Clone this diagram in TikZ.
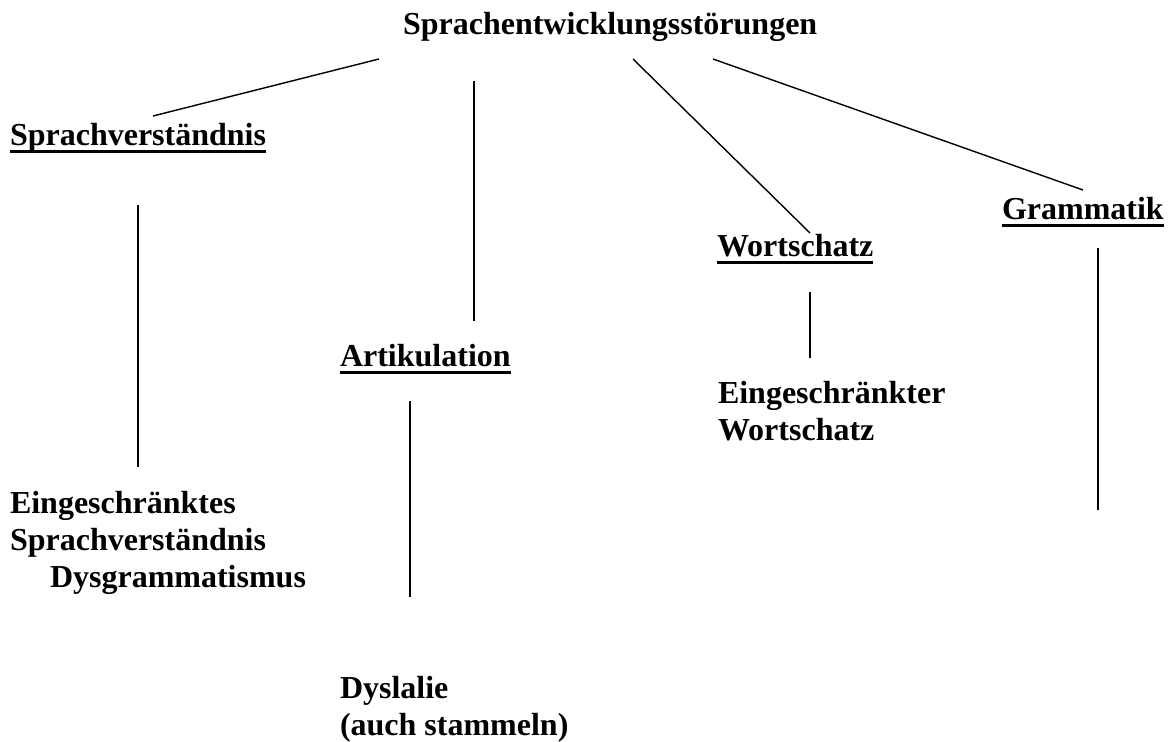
\documentclass[tikz,border=0pt]{standalone}
\usepackage{fontspec}
\setmainfont{Liberation Serif}
\begin{document}
\begin{tikzpicture}[x=1bp,y=-1bp,
  lbl/.style={inner sep=0pt, outer sep=0pt, anchor=base west,
    font=\fontsize{32bp}{36.8bp}\selectfont\bfseries, align=left},
  ln/.style={line width=1.4bp},
  ulin/.style={line width=3bp}]
\useasboundingbox[fill=white] (0,0) rectangle (1175,742);
% nodes (multi-line nodes are placed by the baseline of their last line)
\node[lbl] (root) at (403,35) {Sprachentwicklungsstörungen};
\node[lbl] (sv)   at (10,145) {Sprachverständnis};
\node[lbl] (gr)   at (1002,219) {Grammatik};
\node[lbl] (ws)   at (717,256) {Wortschatz};
\node[lbl] (ar)   at (340,366) {Artikulation};
\node[lbl] (ews)  at (718,440) {Eingeschränkter\\Wortschatz};
\node[lbl] (esv)  at (10,587) {Eingeschränktes\\Sprachverständnis\\\hspace*{40bp}Dysgrammatismus};
\node[lbl] (dy)   at (340,735) {Dyslalie\\(auch stammeln)};
% underlines
\foreach \n in {sv,gr,ws,ar}{
  \draw[ulin] ([yshift=-6.5bp]\n.base west) -- ([yshift=-6.5bp]\n.base east);
}
% connector end points
\coordinate (a1) at (379,59);   \coordinate (a2) at (153,116);
\coordinate (b1) at (474,81);   \coordinate (b2) at (474,321);
\coordinate (c1) at (633,59);   \coordinate (c2) at (810,233);
\coordinate (d1) at (713,59);   \coordinate (d2) at (1083,190);
\coordinate (e1) at (810,292);  \coordinate (e2) at (810,358);
\coordinate (f1) at (410,401);  \coordinate (f2) at (410,597);
\coordinate (g1) at (138,205);  \coordinate (g2) at (138,467);
\coordinate (h1) at (1098,248); \coordinate (h2) at (1098,510);
% connectors
\draw[ln] (a1) -- (a2);
\draw[ln] (b1) -- (b2);
\draw[ln] (c1) -- (c2);
\draw[ln] (d1) -- (d2);
\draw[ln] (e1) -- (e2);
\draw[ln] (f1) -- (f2);
\draw[ln] (g1) -- (g2);
\draw[ln] (h1) -- (h2);
\end{tikzpicture}
\end{document}
